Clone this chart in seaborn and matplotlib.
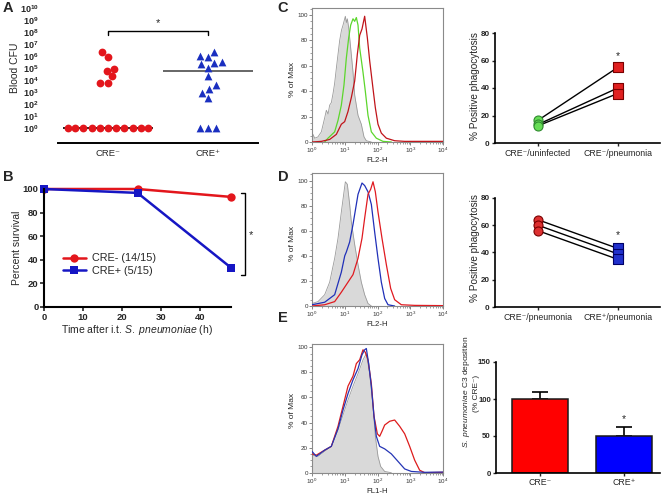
import numpy as np
import pandas as pd
import matplotlib
matplotlib.use('Agg')
import matplotlib.pyplot as plt
from matplotlib.ticker import MultipleLocator, FixedLocator, NullFormatter, LogLocator
import seaborn as sns

sns.set_style('ticks')
plt.rcParams['font.family'] = ['Liberation Sans', 'DejaVu Sans']
plt.rcParams['mathtext.fontset'] = 'custom'
plt.rcParams['mathtext.rm'] = 'Liberation Sans'
plt.rcParams['mathtext.it'] = 'Liberation Sans:italic'
plt.rcParams['mathtext.bf'] = 'Liberation Sans:bold'

# ---- data ----
groups = ['CRE⁻', 'CRE⁺']

# A: blood CFU per mouse
cfu_neg = [1, 1, 1, 1, 1, 1, 1, 1, 1, 1, 1, 2.3e6, 7.8e5, 9e4, 6e4, 2.1e4, 6e3, 6e3]
cfu_pos = [2.3e6, 1e6, 7.8e5, 3e5, 2.5e5, 2.1e5, 9.5e4, 2.1e4, 3.8e3, 1.7e3, 9e2, 3.4e2, 1, 1, 1]
cfu_median = [1, 6e4]

# B: survival
time_h = [0, 24, 48]
surv_neg = [100, 100, 93.3]
surv_pos = [100, 96.7, 33.3]
surv_labels = ['CRE- (14/15)', 'CRE+ (5/15)']

# C/D/E flow histograms (x in decades, y in % of max)
c_gray_dec = [0, .03, .08, .18, .285, .387, .438, .49, .539, .59, .641, .69, .743, .794, .845, .9, .947, 1.018, 1.05, 1.079, 1.12, 1.181, 1.252, 1.303, 1.405, 1.506, 1.588, 1.659, 1.812]
c_gray = [4, 6, 3, 4, 8, 19, 25, 22, 29, 31, 38, 46, 58, 69, 80, 88, 92, 99, 94, 97, 90, 74, 55, 37, 21, 14, 4, 1, 0]
c_green_dec = [.387, .489, .692, .794, .896, .977, 1.048, 1.12, 1.181, 1.252, 1.303, 1.354, 1.405, 1.456, 1.557, 1.628, 1.71, 1.812, 1.964, 2.168, 2.422]
c_green = [0, 3, 8, 17, 29, 45, 66, 82, 92, 97, 95, 98, 92, 74, 55, 40, 21, 8, 3, 0.5, 0]
c_red_dec = [0, .285, .539, .743, .896, .997, 1.099, 1.201, 1.303, 1.35, 1.384, 1.456, 1.527, 1.608, 1.69, 1.761, 1.863, 1.934, 2.015, 2.117, 2.27, 2.524, 2.83, 4.0]
c_red = [0, 0.5, 2, 6, 14, 16, 24, 35, 48, 60, 69, 84, 89, 99, 82, 64, 42, 27, 14, 7, 3, 1, 0.5, 0.5]

d_gray_dec = [0, .183, .387, .539, .692, .794, .896, .977, 1.018, 1.079, 1.15, 1.201, 1.303, 1.405, 1.506, 1.608, 1.71, 1.812]
d_gray = [2, 3.5, 9, 19, 38, 54, 75, 91, 99, 97, 81, 67, 49, 33, 19, 9, 2, 0]
d_blue_dec = [0, .387, .692, .896, 1.0, 1.048, 1.15, 1.252, 1.303, 1.405, 1.527, 1.608, 1.71, 1.812, 1.913, 2.015, 2.117, 2.219, 2.321, 2.524]
d_blue = [1, 3, 9, 27, 40, 43, 51, 65, 73, 89, 98, 96, 91, 81, 59, 38, 19, 6, 1, 0]
d_red_dec = [0, .387, .692, .896, 1.099, 1.252, 1.405, 1.527, 1.608, 1.71, 1.791, 1.863, 1.934, 2.015, 2.137, 2.27, 2.402, 2.524, 2.728, 3.135, 4.0]
d_red = [0, 1, 3.5, 11, 19, 25, 38, 54, 70, 89, 93, 99, 91, 75, 54, 33, 14, 5, 1, 0.5, 0.3]

e_gray_dec = [0, .183, .387, .59, .794, .947, 1.099, 1.252, 1.405, 1.557, 1.659, 1.761, 1.863, 1.934, 2.015, 2.096, 2.219, 2.422]
e_gray = [14, 13, 17, 21, 34, 46, 58, 69, 79, 90, 95, 79, 53, 29, 13, 5, 1, 0]
e_blue_dec = [0, .132, .387, .59, .794, .947, 1.099, 1.252, 1.405, 1.527, 1.608, 1.659, 1.73, 1.812, 1.893, 1.964, 2.066, 2.219, 2.422, 2.626, 2.83, 3.033, 3.44, 4.0]
e_blue = [17, 13, 18, 21, 35, 50, 63, 74, 83, 94, 98, 99, 87, 69, 45, 29, 21, 19, 15, 9, 3, 1, 0.3, 0.5]
e_red_dec = [0, .132, .387, .59, .794, .947, 1.099, 1.252, 1.354, 1.456, 1.557, 1.628, 1.71, 1.812, 1.893, 1.995, 2.066, 2.137, 2.219, 2.372, 2.524, 2.677, 2.83, 2.982, 3.135, 3.287, 3.44, 4.0]
e_red = [15, 14, 18, 21, 37, 53, 69, 77, 87, 90, 98, 96, 90, 71, 45, 31, 29, 33, 38, 41, 42, 37, 31, 21, 10, 2, 0, 0.3]

# C/D right: paired phagocytosis (%)
c_labels = ['CRE⁻/uninfected', 'CRE⁻/pneumonia']
c_uninf = [16.5, 13.5, 12.5]
c_pneu = [55, 40, 36]
d_labels = ['CRE⁻/pneumonia', 'CRE⁺/pneumonia']
d_neg = [64, 60, 56]
d_pos = [43, 39, 35]

# E right: C3 deposition
c3_mean = [100, 50]
c3_sem = [9, 12]

RED = '#e3161c'
BLUE = '#1616c4'

W, H = 665, 497
fig = plt.figure(figsize=(W / 100, H / 100), dpi=100)


def box(l, t, r, b):
    return fig.add_axes([l / W, 1 - b / H, (r - l) / W, (b - t) / H])


def ftext(x, y, s, **kw):
    kw.setdefault('ha', 'center')
    kw.setdefault('va', 'center')
    fig.text(x / W, 1 - y / H, s, **kw)


# ---- A ----
axA = box(58, 5.6, 258, 143)
dfA = pd.DataFrame({'grp': [groups[0]] * len(cfu_neg) + [groups[1]] * len(cfu_pos),
                    'cfu': cfu_neg + cfu_pos})
sns.swarmplot(data=dfA[dfA.grp == groups[0]], x='grp', y='cfu', order=groups, color=RED,
              marker='o', size=5.6, log_scale=True, ax=axA, zorder=3)
sns.swarmplot(data=dfA[dfA.grp == groups[1]], x='grp', y='cfu', order=groups, color='#1a2fc0',
              marker='^', size=5.6, log_scale=True, ax=axA, zorder=3)
axA.hlines(cfu_median, [-0.45, 0.55], [0.45, 1.45], colors=['#222222', '#666666'], lw=1.4, zorder=1)
axA.set_xlim(-0.5, 1.5)
axA.set_ylim(10 ** -1.25, 10 ** 10.2)
axA.yaxis.set_major_locator(FixedLocator([10.0 ** k for k in range(11)]))
axA.yaxis.set_minor_locator(FixedLocator([]))
axA.set_yticklabels([r'$\mathbf{10^{%d}}$' % k for k in range(11)], fontsize=6.5)
axA.tick_params(axis='y', length=0, pad=14)
axA.tick_params(axis='x', length=0, pad=4, labelsize=6.8)
for s in ['left', 'top', 'right']:
    axA.spines[s].set_visible(False)
axA.spines['bottom'].set_linewidth(1.4)
axA.spines['bottom'].set_color('black')
axA.set_xlabel('')
axA.set_ylabel('')
axA.plot([0, 0, 1, 1], [10 ** 7.72, 10 ** 8.08, 10 ** 8.08, 10 ** 7.72], color='black', lw=1)
axA.text(0.5, 10 ** 8.35, '*', ha='center', va='bottom', fontsize=8)
ftext(15, 68, 'Blood CFU', rotation=90, fontsize=7.5)

# ---- B ----
axB = box(44, 189, 231, 307)
dfB = pd.DataFrame({'time': time_h * 2, 'surv': surv_neg + surv_pos,
                    'grp': [surv_labels[0]] * 3 + [surv_labels[1]] * 3})
sns.lineplot(data=dfB, x='time', y='surv', hue='grp', style='grp', markers=['o', 's'],
             dashes=False, palette=[RED, BLUE], lw=1.8, markersize=6, markeredgewidth=0,
             clip_on=False, ax=axB)
axB.set_xlim(0, 48)
axB.set_ylim(0, 100)
axB.xaxis.set_major_locator(MultipleLocator(10))
axB.yaxis.set_major_locator(MultipleLocator(20))
sns.despine(ax=axB)
for s in ['left', 'bottom']:
    axB.spines[s].set_linewidth(1.5)
    axB.spines[s].set_color('black')
axB.tick_params(length=3, width=1.2, labelsize=6.8, pad=1)
for lab in axB.get_xticklabels() + axB.get_yticklabels():
    lab.set_fontweight('bold')
axB.set_xlabel('')
axB.set_ylabel('')
axB.legend(loc='upper left', bbox_to_anchor=(0.07, 0.5), frameon=False, fontsize=7.8,
           handlelength=2.2, handletextpad=0.5, labelspacing=0.25, borderpad=0)
axB.plot([50.6, 51.6, 51.6, 50.6], [96.6, 96.6, 27, 27], color='black', lw=1, clip_on=False)
axB.text(53.2, 61, '*', ha='center', va='center', fontsize=8, clip_on=False)
ftext(17, 248, 'Percent survival', rotation=90, fontsize=7.5)
ftext(137, 330, r'Time after i.t. $\it{S.\ pneumoniae}$ (h)', fontsize=7.5)


# ---- flow histograms ----
def hist_panel(ax, top, gray_dec, gray, curves, xlabel):
    ax.set_xscale('log')
    gx = np.power(10.0, gray_dec)
    ax.fill_between(gx, gray, color='#d9d9d9', lw=0, zorder=1)
    sns.lineplot(x=gx, y=gray, color='#9a9a9a', lw=0.6, sort=False, estimator=None, ax=ax, zorder=2)
    for dec, vals, col in curves:
        sns.lineplot(x=np.power(10.0, dec), y=vals, color=col, lw=0.9, sort=False,
                     estimator=None, ax=ax, zorder=3)
    ax.set_xlim(1, 1e4)
    ax.set_ylim(0, top)
    ax.yaxis.set_major_locator(FixedLocator([0, 20, 40, 60, 80, 100]))
    ax.yaxis.set_minor_locator(MultipleLocator(5))
    ax.xaxis.set_major_locator(LogLocator(base=10))
    ax.xaxis.set_minor_locator(LogLocator(base=10, subs=np.arange(2, 10)))
    ax.xaxis.set_minor_formatter(NullFormatter())
    ax.set_xticks([1, 10, 100, 1000, 10000])
    ax.set_xticklabels([r'$10^{%d}$' % k for k in range(5)])
    ax.tick_params(which='major', length=2, width=0.5, labelsize=4.5, pad=1, colors='#555555',
                   labelcolor='#333333')
    ax.tick_params(which='minor', length=1.2, width=0.4, colors='#555555')
    for s in ax.spines.values():
        s.set_color('#8a8a8a')
        s.set_linewidth(0.8)
        s.set_visible(True)
    ax.set_xlabel(xlabel, fontsize=5.6, labelpad=1)
    ax.set_ylabel('')


axC = box(312, 8, 443, 142)
hist_panel(axC, 105.5, c_gray_dec, c_gray,
           [(c_green_dec, c_green, '#5cd62c'), (c_red_dec, c_red, '#c0141a')], 'FL2-H')
axD = box(312, 173, 443, 306)
hist_panel(axD, 106, d_gray_dec, d_gray,
           [(d_blue_dec, d_blue, '#2030b8'), (d_red_dec, d_red, '#e01a20')], 'FL2-H')
axE = box(312, 344, 443, 472.7)
hist_panel(axE, 102.6, e_gray_dec, e_gray,
           [(e_red_dec, e_red, '#dd1c1c'), (e_blue_dec, e_blue, '#2535b5')], 'FL1-H')
for yc in [79, 243, 410]:
    ftext(292, yc, '% of Max', rotation=90, fontsize=6)


# ---- paired phagocytosis ----
def paired_panel(ax, labels, before, after, styles, star_y):
    n = len(before)
    dfp = pd.DataFrame({'pos': [0] * n + [1] * n, 'val': before + after,
                        'pair': list(range(n)) * 2})
    sns.lineplot(data=dfp, x='pos', y='val', units='pair', estimator=None, color='black',
                 lw=1, ax=ax, zorder=2)
    for pos, (mk, fc, ec) in enumerate(styles):
        sub = dfp[dfp.pos == pos]
        sns.scatterplot(data=sub, x='pos', y='val', marker=mk, color=fc, edgecolor=ec,
                        linewidth=0.8, s=42, ax=ax, zorder=3, clip_on=False)
    ax.set_xlim(-0.54, 1.53)
    ax.set_ylim(0, 80)
    ax.set_xticks([0, 1])
    ax.set_xticklabels(labels, fontsize=6.3)
    ax.yaxis.set_major_locator(MultipleLocator(20))
    sns.despine(ax=ax)
    for s in ['left', 'bottom']:
        ax.spines[s].set_linewidth(1.2)
        ax.spines[s].set_color('black')
    ax.tick_params(length=2.5, width=1, pad=1.5)
    ax.tick_params(axis='y', labelsize=5.8)
    for lab in ax.get_yticklabels():
        lab.set_fontweight('bold')
    ax.set_xlabel('')
    ax.set_ylabel('')
    ax.text(1, star_y, '*', ha='center', va='center', fontsize=7.5)


axC2 = box(495, 33, 660, 143)
paired_panel(axC2, c_labels, c_uninf, c_pneu,
             [('o', '#66dd55', '#2f8a2f'), ('s', '#e02020', '#7a0000')], 63)
axD2 = box(495, 198, 660, 307)
paired_panel(axD2, d_labels, d_neg, d_pos,
             [('o', '#dd3030', '#7a0000'), ('s', '#2030cc', '#000066')], 53)
ftext(475, 86, '% Positive phagocytosis', rotation=90, fontsize=7.2)
ftext(475, 248, '% Positive phagocytosis', rotation=90, fontsize=7.2)

# ---- E bars ----
axE2 = box(496, 362, 660, 473)
sns.barplot(x=groups, y=c3_mean, hue=groups, palette=['#ff0000', '#0000ff'], edgecolor='#1a1a1a',
            linewidth=1.1, width=0.667, saturation=1, legend=False, ax=axE2, zorder=2)
axE2.errorbar([0, 1], c3_mean, yerr=[[0, 0], c3_sem], fmt='none', ecolor='black',
              elinewidth=1.2, capsize=6, capthick=1.2, zorder=1)
axE2.set_xlim(-0.52, 1.43)
axE2.set_ylim(0, 150)
axE2.yaxis.set_major_locator(MultipleLocator(50))
sns.despine(ax=axE2)
for s in ['left', 'bottom']:
    axE2.spines[s].set_linewidth(1.2)
    axE2.spines[s].set_color('black')
axE2.tick_params(length=2.5, width=1, pad=1.2)
axE2.tick_params(axis='y', labelsize=5.6)
axE2.tick_params(axis='x', labelsize=6.3)
for lab in axE2.get_yticklabels():
    lab.set_fontweight('bold')
axE2.text(1, 73, '*', ha='center', va='center', fontsize=7.5)
ftext(466, 392, r'$\it{S.\ pneumoniae}$ C3 deposition', rotation=90, fontsize=6)
ftext(476, 393, '(% CRE⁻)', rotation=90, fontsize=6)

# ---- panel letters ----
for letter, x, y in [('A', 8, 8), ('B', 8, 177), ('C', 283, 8), ('D', 283, 177), ('E', 283, 318)]:
    ftext(x, y, letter, fontsize=10.5, fontweight='heavy')

fig.savefig('out.png', dpi=100)
